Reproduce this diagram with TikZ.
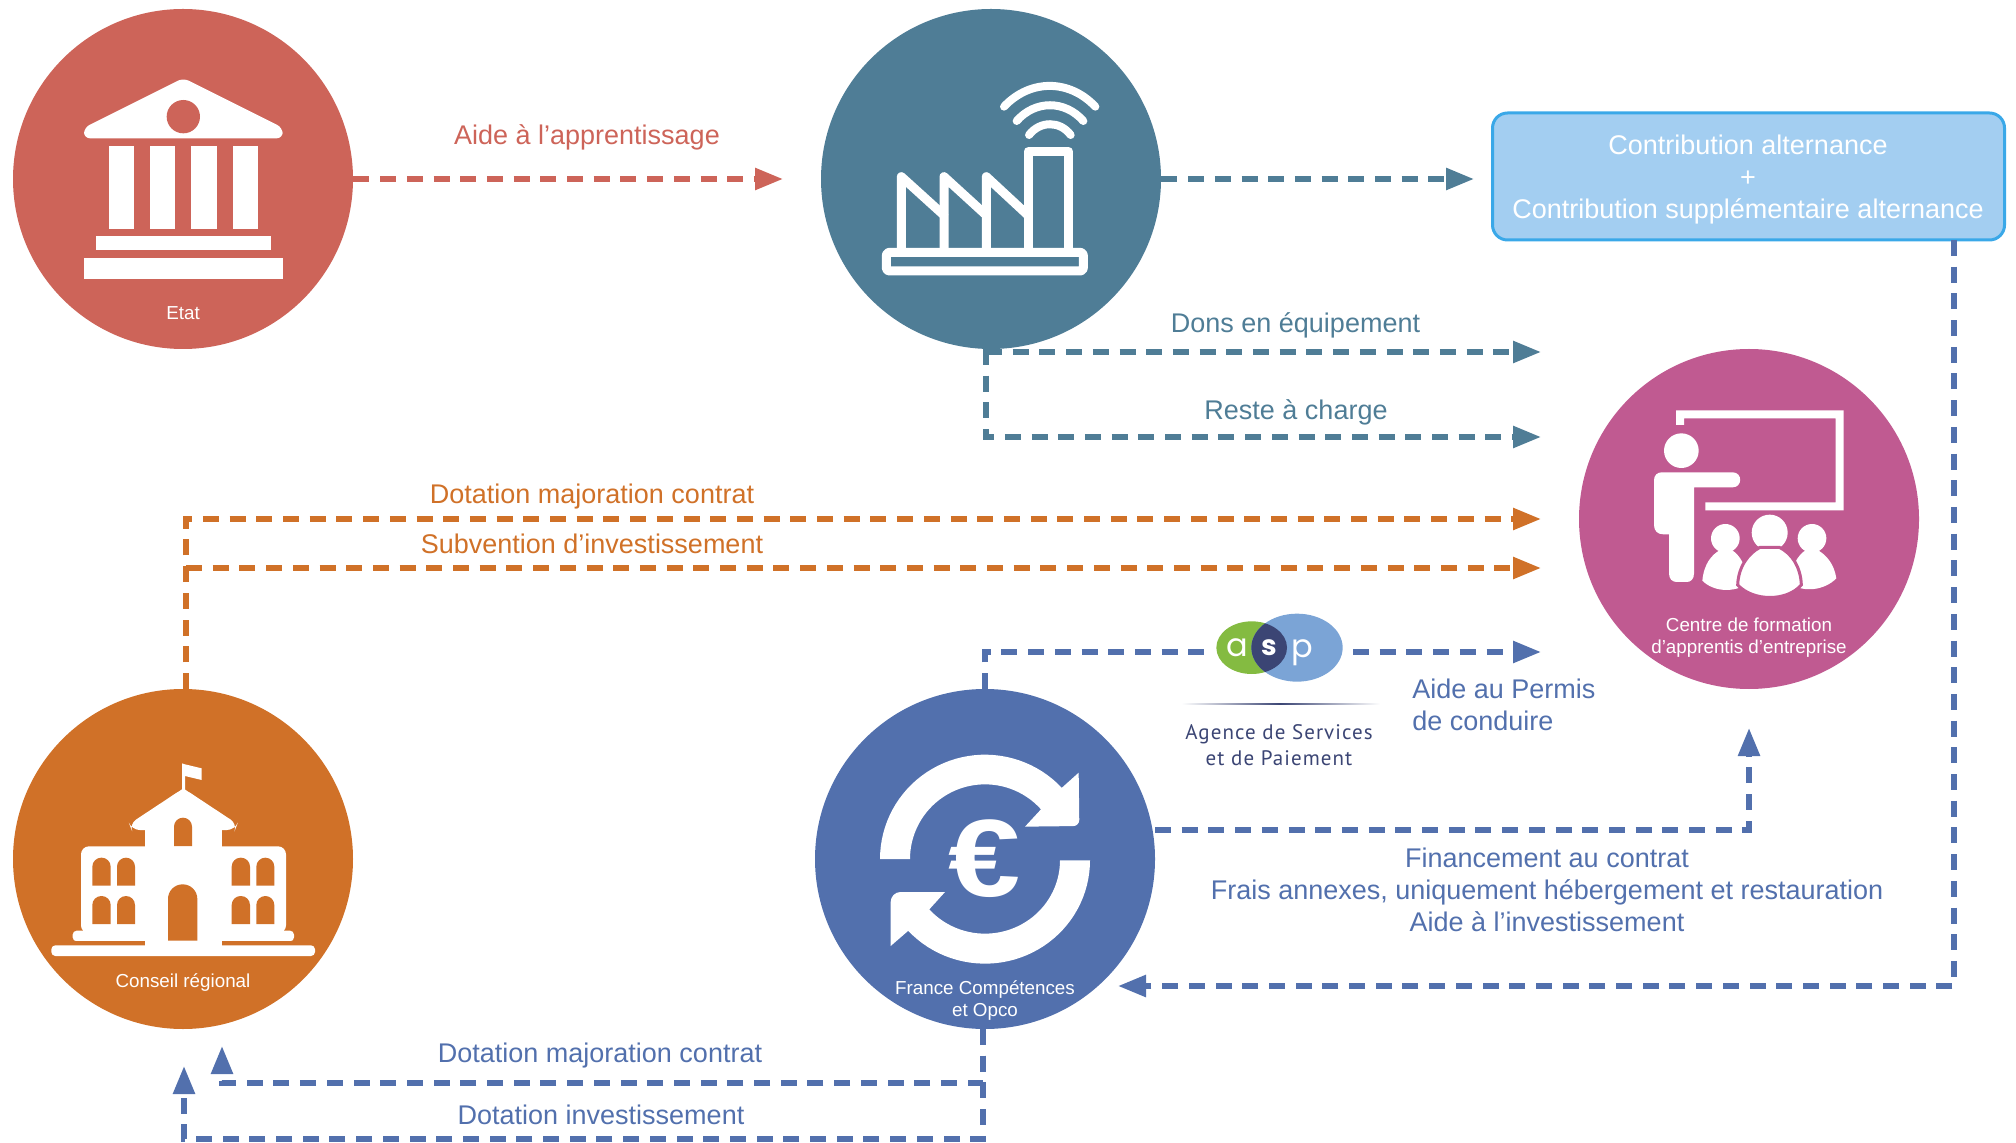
\documentclass[tikz,border=0pt]{standalone}
\usepackage{fontspec}
\setmainfont{Liberation Sans}
\newfontfamily\aspfont[LetterSpace=5]{PT Sans}
\newfontfamily\asplogo{Poppins}
\usetikzlibrary{arrows.meta,shapes.geometric}
\definecolor{cred}{HTML}{CD6459}
\definecolor{cteal}{HTML}{4F7D96}
\definecolor{cpink}{HTML}{C05A91}
\definecolor{corange}{HTML}{D07128}
\definecolor{cblue}{HTML}{5270AD}
\definecolor{cboxfill}{HTML}{A3CEF1}
\definecolor{cboxline}{HTML}{3AA8E8}
\definecolor{cgreen}{HTML}{84BB41}
\definecolor{clight}{HTML}{7BA4D6}
\definecolor{cnavy}{HTML}{3B4574}
\tikzset{
  disc/.style={circle,inner sep=0pt,minimum size=170pt,fill=#1},
  conn/.style={draw=#1,line width=2.8pt,dash pattern=on 8pt off 5.35pt,
    -{Triangle[length=14pt,width=10.5pt,fill=#1]}},
  plainconn/.style={draw=#1,line width=2.8pt,dash pattern=on 8pt off 5.35pt},
  lbl/.style={font=\fontsize{13.5}{16}\selectfont,text=#1,align=center,inner sep=0pt},
  small/.style={font=\fontsize{9.4}{11}\selectfont,text=white,align=center,inner sep=0pt},
}
\newcommand{\archwin}[5]{\fill[#5] (#1,#4) [rounded corners=4.5pt] -- (#1,#3) -- (#2,#3) [sharp corners] -- (#2,#4) -- cycle;}
\begin{document}
\begin{tikzpicture}[x=0.5pt,y=-0.5pt]
\useasboundingbox (0,0) rectangle (2016,1143);
% nodes
\node[disc=cred] (etat) at (183,179) {};
\node[disc=cteal] (factory) at (991,179) {};
\node[disc=cpink] (cfa) at (1749,519) {};
\node[disc=corange] (region) at (183,859) {};
\node[disc=cblue] (france) at (985,859) {};
\node[draw=cboxline,fill=cboxfill,line width=1.5pt,rounded corners=7.5pt,minimum width=256pt,minimum height=63.5pt,inner sep=0pt] (box) at (1748.5,176.5) {};
\node[font=\fontsize{13.5}{16.2}\selectfont,text=white,align=center,inner sep=0pt] (boxtext) at (1748,179.5)
  {Contribution alternance\\+\\Contribution supplémentaire alternance};
% coordinates
\coordinate (redtip) at (783,179);
\coordinate (tealtip) at (1474,179);
\coordinate (fa) at (986,349);
\coordinate (fb) at (986,352);
\coordinate (fc) at (986,437);
\coordinate (donstip) at (1541,352);
\coordinate (restetip) at (1541,437);
\coordinate (ra) at (186,689);
\coordinate (rb) at (186,519);
\coordinate (rc) at (186,568);
\coordinate (dottip) at (1541,519);
\coordinate (subtip) at (1541,568);
\coordinate (aa) at (985,689);
\coordinate (ab) at (985,652);
\coordinate (ac) at (1207,652);
\coordinate (ad) at (1353,652);
\coordinate (aspin) at (1541,652);
\coordinate (ga) at (1155,830);
\coordinate (gb) at (1749,830);
\coordinate (gtip) at (1749,728);
\coordinate (ba) at (1954,240);
\coordinate (bb) at (1954,986);
\coordinate (btip) at (1118,986);
\coordinate (da) at (983,1029);
\coordinate (db) at (983,1083);
\coordinate (dc) at (983,1139);
\coordinate (dd) at (222,1083);
\coordinate (de) at (184,1139);
\coordinate (dtipa) at (222,1046);
\coordinate (dtipb) at (184,1066);
% connectors
\draw[conn=cred] (etat.east) -- (redtip);
\draw[conn=cteal] (factory.east) -- (tealtip);
\draw[conn=cteal] (fb) -- (donstip);
\draw[conn=cteal] (fa) -- (fc) -- (restetip);
\draw[conn=corange] (ra) -- (rb) -- (dottip);
\draw[conn=corange] (rc) -- (subtip);
\draw[plainconn=cblue] (aa) -- (ab) -- (ac);
\draw[conn=cblue] (ad) -- (aspin);
\draw[conn=cblue] (ga) -- (gb) -- (gtip);
\draw[conn=cblue] (ba) -- (bb) -- (btip);
\draw[conn=cblue] (da) -- (db) -- (dd) -- (dtipa);
\draw[conn=cblue] (da) -- (dc) -- (de) -- (dtipb);
% labels
\node[lbl=cred] (l1) at (587,137.5) {Aide à l’apprentissage};
\node[lbl=cteal] (l2) at (1295.5,325.5) {Dons en équipement};
\node[lbl=cteal] (l3) at (1296,412.5) {Reste à charge};
\node[lbl=corange] (l4) at (592,496.5) {Dotation majoration contrat};
\node[lbl=corange] (l5) at (592,544) {Subvention d’investissement};
\node[lbl=cblue,align=left,anchor=west] (l6) at (1412,705) {Aide au Permis\\de conduire};
\node[lbl=cblue] (l7) at (1547,890) {Financement au contrat\\Frais annexes, uniquement hébergement et restauration\\Aide à l’investissement};
\node[lbl=cblue] (l8) at (600,1056) {Dotation majoration contrat};
\node[lbl=cblue] (l9) at (601,1115) {Dotation investissement};
\node[small] (s1) at (183,313) {Etat};
\node[small] (s2) at (183,982.5) {Conseil régional};
\node[small] (s3) at (1749,637.5) {Centre de formation\\d’apprentis d’entreprise};
\node[small] (s4) at (985,1000.5) {France Compétences\\et Opco};
% bank icon
\begin{scope}[scale=1/3]
\fill[white,rounded corners=3pt] (252,415) -- (252,383) -- (550,234) -- (848,383) -- (848,415) -- cycle;
\fill[cred] (550,350) circle[radius=50];
\foreach \a/\b in {326/401,450/525,574/650,699/774} \fill[white] (\a,438) rectangle (\b,687);
\fill[white] (288,708) rectangle (813,750);
\fill[white] (252,774) rectangle (849,837);
\end{scope}
% factory icon
\begin{scope}[shift={(800,0)},scale=1/3]
\draw[white,line width=4.5pt,line join=round,rounded corners=1.5pt] (259,757) rectangle (850,813);
\draw[white,line width=4.5pt,line join=round] (304,757) -- (304,530) -- (432,646) -- (432,757);
\draw[white,line width=4.5pt,line join=round] (432,646) -- (432,530) -- (559,646) -- (559,757);
\draw[white,line width=4.5pt,line join=round] (559,646) -- (559,530) -- (684,646);
\draw[white,line width=4.5pt,line join=round] (684,757) -- (684,455) -- (806,455) -- (806,757);
\draw[white,line width=4pt,line cap=round] (612,320) .. controls (690,237) and (808,237) .. (886,320);
\draw[white,line width=4pt,line cap=round] (650,363) .. controls (705,300) and (795,300) .. (850,363);
\draw[white,line width=4pt,line cap=round] (687,405) .. controls (720,362) and (780,362) .. (812,405);
\end{scope}
% training centre icon
\begin{scope}[shift={(1570,340)},scale=1/3]
\fill[white] (318,255) -- (318,211) -- (821,211) -- (821,511) -- (406,511) -- (406,487) -- (797,487) -- (797,235) -- (342,235) -- (342,255) -- cycle;
\fill[white] (334,332) circle[radius=52];
\fill[white] (275,397) -- (488,397) .. controls (518,397) and (518,442) .. (488,442) -- (372,442) -- (372,700) .. controls (372,718) and (362,726) .. (350,726) -- (320,726) .. controls (306,726) and (297,716) .. (297,700) -- (297,583) -- (280,583) .. controls (262,583) and (252,572) .. (252,555) -- (252,420) .. controls (252,406) and (262,397) .. (275,397) -- cycle;
\fill[white] (466,595) circle[radius=43];
\fill[white] (726,595) circle[radius=43];
\fill[white] (397,722) .. controls (402,670) and (425,645) .. (450,630) -- (485,630) .. controls (510,645) and (530,680) .. (535,730) .. controls (490,760) and (430,755) .. (397,722) -- cycle;
\fill[white] (799,715) .. controls (792,670) and (768,645) .. (743,630) -- (708,630) .. controls (683,645) and (663,680) .. (658,730) .. controls (703,760) and (765,750) .. (799,715) -- cycle;
\fill[white] (599,578) circle[radius=54];
\filldraw[fill=white,draw=cpink,line width=1.5pt] (503,735) .. controls (505,680) and (535,640) .. (570,622) -- (628,622) .. controls (665,640) and (692,680) .. (694,735) .. controls (650,785) and (550,785) .. (503,735) -- cycle;
\end{scope}
% regional council icon
\begin{scope}[shift={(0,680)},scale=1/3]
\fill[white,rounded corners=2pt] (154,796) rectangle (945,828);
\fill[white,rounded corners=2pt] (218,752) rectangle (882,784);
\fill[white,rounded corners=4pt] (243,760) -- (243,499) -- (858,499) -- (858,760) -- cycle;
\fill[white] (436,810) rectangle (665,440);
\fill[white,rounded corners=4pt] (395,450) -- (388,432) -- (550,325) -- (712,432) -- (705,450) -- cycle;
\fill[white] (546,330) -- (546,250) -- (555,253) -- (605,265) -- (605,300) -- (555,288) -- (555,330) -- cycle;
\fill[white] (550,325) -- (500,360) -- (600,360) -- cycle;
\fill[corange] (218,784) rectangle (436,796);
\fill[corange] (665,784) rectangle (882,796);
\foreach \a/\b in {277/332,351/405,695/750,769/823} {
  \archwin{\a}{\b}{533}{617}{corange}
  \archwin{\a}{\b}{648}{732}{corange}
}
\archwin{522}{576}{413}{498}{corange}
\fill[corange] (504,782) [rounded corners=7.3pt] -- (504,613) -- (592,613) [sharp corners] -- (592,782) -- cycle;
\end{scope}
% euro icon
\begin{scope}[shift={(800,680)},scale=1/3]
\fill[white] plot[domain=180:317,samples=40] ({555+315*cos(\x)},{537+313*sin(\x)}) -- (836,278) [rounded corners=3pt] -- (838,438) [sharp corners] -- (675,440) -- (723,388) -- plot[domain=318:180,samples=40] ({555+225*cos(\x)},{537+224*sin(\x)}) -- cycle;
\fill[white] plot[domain=0:137,samples=40] ({555+315*cos(\x)},{541+310*sin(\x)}) -- (272,798) [rounded corners=5pt] -- (272,636) [sharp corners] -- (435,636) -- (388,688) -- plot[domain=138:0,samples=40] ({555+225*cos(\x)},{541+220*sin(\x)}) -- cycle;
\end{scope}
\node[inner sep=0pt,text=white,xscale=1.18,font=\fontsize{55}{55}\selectfont\bfseries] (euro) at (985,859) {€};
% ASP logo
\begin{scope}[shift={(1150,590)},scale=1/3]
\fill[cgreen] (305,173) ellipse[x radius=106,y radius=79];
\fill[clight] (441,173) ellipse[x radius=137,y radius=102];
\begin{scope}
\clip (305,173) ellipse[x radius=106,y radius=79];
\fill[cnavy] (441,173) ellipse[x radius=137,y radius=102];
\end{scope}
\shade[left color=white,right color=cnavy] (95,340) rectangle (390,344);
\shade[left color=cnavy,right color=white] (390,340) rectangle (690,344);
\end{scope}
\node[inner sep=0pt,text=white,font=\asplogo\fontsize{16}{16}\selectfont] (aspa) at (1237,648) {a};
\node[inner sep=0pt,text=white,font=\asplogo\bfseries\fontsize{14}{14}\selectfont] (asps) at (1269,648) {s};
\node[inner sep=0pt,text=white,font=\asplogo\fontsize{16}{16}\selectfont] (aspp) at (1302,653) {p};
\node[inner sep=0pt,text=cnavy,align=center,font=\aspfont\fontsize{10.5}{13}\selectfont] (asptext) at (1279,745.5) {Agence de Services\\et de Paiement};
\end{tikzpicture}
\end{document}
